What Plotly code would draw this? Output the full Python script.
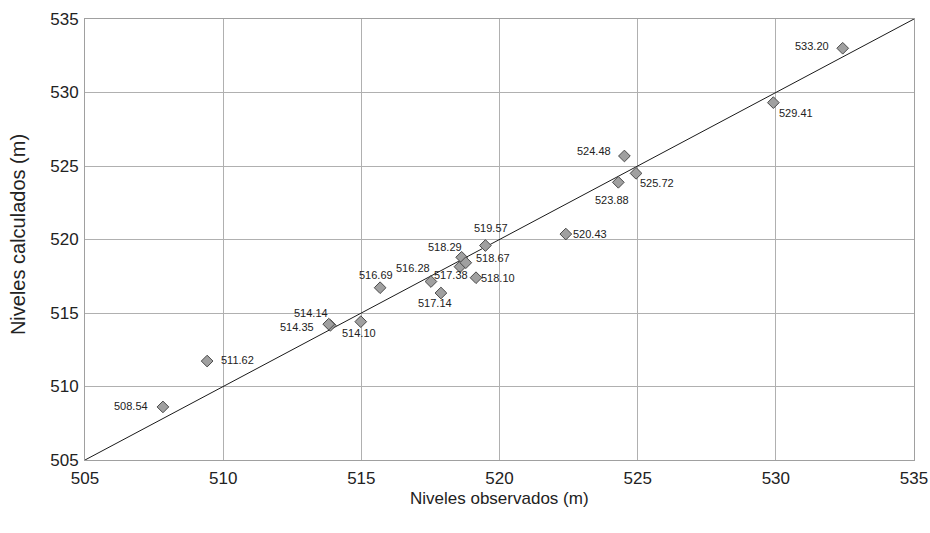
import plotly.graph_objects as go

observados = [507.82, 509.42, 513.88, 513.82, 514.98, 515.68, 517.52, 518.57, 517.88,
              518.63, 518.78, 519.15, 519.49, 522.40, 524.52, 524.94, 524.30, 529.91, 532.42]
calculados = [508.61, 511.73, 514.16, 514.24, 514.41, 516.72, 517.14, 518.15, 516.36,
              518.79, 518.42, 517.40, 519.59, 520.37, 525.68, 524.50, 523.89, 529.31, 533.01]
etiquetas = ["508.54", "511.62", "514.14", "514.35", "514.10", "516.69", "516.28", "517.38", "517.14",
             "518.29", "518.67", "518.10", "519.57", "520.43", "524.48", "525.72", "523.88", "529.41", "533.20"]
# label offsets in pixels (x right, y up)
dx = [-32, 30, -19, -32, -2, -4, -18, -9, -6, -17, 27, 22, 6, 24, -30, 21, -6, 23, -31]
dy = [1, 1, 12, -3, -11, 13, 14, -8, -10, 10, 5, 0, 18, 0, 5, -10, -18, -10, 2]

linea_x = [505, 535]
linea_y = [505, 535]
ticks = [505, 510, 515, 520, 525, 530, 535]

REG = "Liberation Sans, Arial"

fig = go.Figure()
fig.add_trace(go.Scatter(x=linea_x, y=linea_y, mode="lines",
                         line=dict(color="#1a1a1a", width=1), hoverinfo="skip"))
fig.add_trace(go.Scatter(x=observados, y=calculados, mode="markers",
                         marker=dict(symbol="diamond", size=9, color="#a0a0a0",
                                     line=dict(color="#4a4a4a", width=1))))

for x, y, t, sx, sy in zip(observados, calculados, etiquetas, dx, dy):
    fig.add_annotation(x=x, y=y, text=t, showarrow=False, xshift=sx, yshift=sy,
                       font=dict(family=REG, size=11, color="#222"))

axis_common = dict(range=[505, 535], tickvals=ticks, showgrid=True, gridcolor="#b0b0b0",
                   gridwidth=1, zeroline=False, showline=True, linecolor="#a0a0a0",
                   linewidth=1, mirror=True, ticks="", automargin=False,
                   ticklabeloverflow="allow",
                   tickfont=dict(family=REG, size=17, color="#222"))

fig.update_xaxes(**axis_common, ticklabelstandoff=3)
fig.update_yaxes(**axis_common, ticklabelstandoff=2)

# axis titles
fig.add_annotation(xref="paper", yref="paper", x=0.5, y=0, yshift=-38, showarrow=False,
                   text="Niveles observados (m)", yanchor="middle",
                   font=dict(family=REG, size=17, color="#222"))
fig.add_annotation(xref="paper", yref="paper", x=0, y=0.51, xshift=-67, showarrow=False,
                   text="Niveles calculados (m)", textangle=-90, xanchor="center",
                   font=dict(family=REG, size=20, color="#222"))

fig.update_layout(width=930, height=533, showlegend=False,
                  paper_bgcolor="white", plot_bgcolor="white",
                  margin=dict(l=85, r=16, t=19, b=73))

fig.write_html("out.html", config={"displayModeBar": False},
               post_script="document.body.style.margin='0';")
